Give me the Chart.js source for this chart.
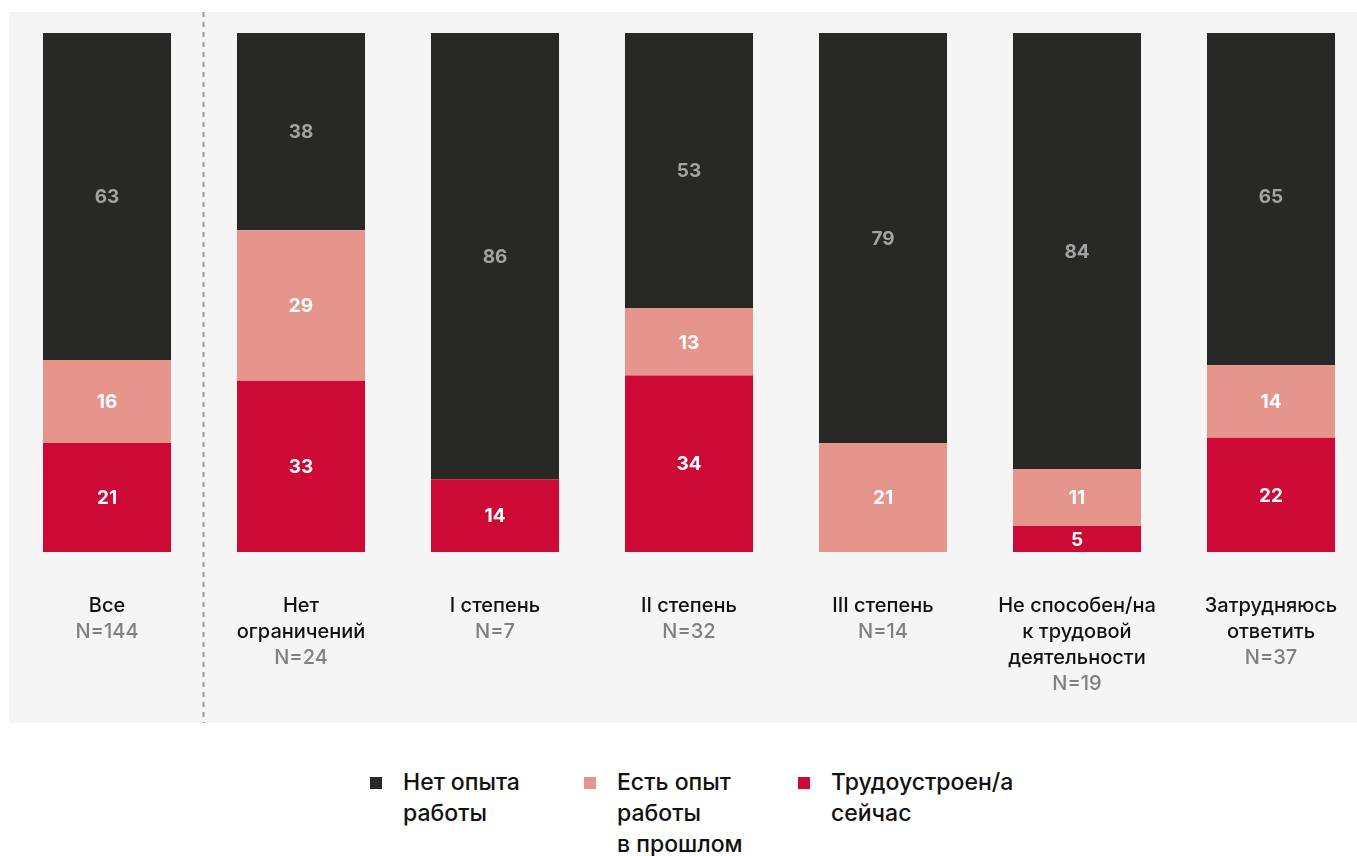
<!DOCTYPE html>
<html>
<head>
<meta charset="utf-8">
<script src="https://cdn.jsdelivr.net/npm/chart.js@4.4.1/dist/chart.umd.min.js"></script>
<style>
  html, body { margin: 0; padding: 0; background: #fff; overflow: hidden; }
  body { width: 1357px; height: 856px; position: relative; font-family: Inter, "Liberation Sans", sans-serif; }
  #chart { position: absolute; left: 0; top: 0; }
  .legend { position: absolute; top: 767px; left: 0; width: 1357px; }
  .item { position: absolute; top: 0; font-size: 23px; font-weight: 500; line-height: 31px; color: #111; white-space: nowrap; }
  .item i { position: absolute; left: -33px; top: 10px; width: 12px; height: 12px; }
</style>
</head>
<body>
<canvas id="chart" width="1368" height="760"></canvas>
<div class="legend" id="legend"></div>
<script>
// категории и подписи
const categoryLines = [
  ['Все'],
  ['Нет', 'ограничений'],
  ['I степень'],
  ['II степень'],
  ['III степень'],
  ['Не способен/на', 'к трудовой', 'деятельности'],
  ['Затрудняюсь', 'ответить']
];
const sampleSizes = ['N=144', 'N=24', 'N=7', 'N=32', 'N=14', 'N=19', 'N=37'];

// значения, %
const employedNow = [21, 33, 14, 34, 0, 5, 22];
const pastExperience = [16, 29, 0, 13, 21, 11, 14];
const noExperience = [63, 38, 86, 53, 79, 84, 65];

const seriesNames = [['Нет опыта', 'работы'], ['Есть опыт', 'работы', 'в прошлом'], ['Трудоустроен/а', 'сейчас']];
const seriesColors = ['#282826', '#e6958d', '#cc0a35'];

const FONT = 'Inter, "Liberation Sans", sans-serif';

// фон панели + пунктир после "Все"
const panelPlugin = {
  id: 'panel',
  beforeDraw(chart) {
    const ctx = chart.ctx;
    ctx.save();
    ctx.fillStyle = '#f5f5f5';
    ctx.fillRect(9, 12, chart.width - 9, 711);
    const x = chart.scales.x;
    const sepX = Math.round((x.getPixelForValue(0) + x.getPixelForValue(1)) / 2) - 0.5;
    ctx.strokeStyle = '#9b9b9b';
    ctx.lineWidth = 2;
    ctx.setLineDash([5, 5]);
    ctx.beginPath();
    ctx.moveTo(sepX, 12);
    ctx.lineTo(sepX, 723);
    ctx.stroke();
    ctx.restore();
  }
};

// подписи значений и категорий
const labelsPlugin = {
  id: 'labels',
  afterDatasetsDraw(chart) {
    const ctx = chart.ctx;
    ctx.save();
    ctx.textAlign = 'center';
    ctx.textBaseline = 'middle';
    ctx.font = 'bold 19px ' + FONT;
    chart.data.datasets.forEach((ds, di) => {
      chart.getDatasetMeta(di).data.forEach((bar, i) => {
        const v = ds.data[i];
        if (!v) return;
        ctx.fillStyle = ds.labelColor;
        ctx.fillText(String(v), bar.x, (bar.y + bar.base) / 2 + 1);
      });
    });

    const xs = chart.scales.x;
    categoryLines.forEach((lines, i) => {
      const cx = xs.getPixelForValue(i);
      let y = 606;
      ctx.font = '500 20px ' + FONT;
      ctx.fillStyle = '#111111';
      lines.forEach(t => { ctx.fillText(t, cx, y); y += 26; });
      ctx.fillStyle = '#808080';
      ctx.fillText(sampleSizes[i], cx, y);
    });
    ctx.restore();
  }
};

const ctx = document.getElementById('chart').getContext('2d');
const myChart = new Chart(ctx, {
  type: 'bar',
  data: {
    labels: categoryLines.map(l => l.join(' ')),
    datasets: [{
      label: seriesNames[2].join(' '),
      data: employedNow,
      backgroundColor: seriesColors[2],
      labelColor: '#ffffff'
    }, {
      label: seriesNames[1].join(' '),
      data: pastExperience,
      backgroundColor: seriesColors[1],
      labelColor: '#ffffff'
    }, {
      label: seriesNames[0].join(' '),
      data: noExperience,
      backgroundColor: seriesColors[0],
      labelColor: '#a3a3a3'
    }]
  },
  options: {
    responsive: false,
    animation: false,
    layout: { padding: { left: 10, right: 0, top: 33, bottom: 208 } },
    datasets: { bar: { barPercentage: 0.66, categoryPercentage: 1, borderWidth: 0 } },
    plugins: { legend: { display: false }, tooltip: { enabled: false } },
    scales: {
      x: { stacked: true, display: false },
      y: { stacked: true, display: false, min: 0, max: 100 }
    }
  },
  plugins: [panelPlugin, labelsPlugin]
});

// легенда
const legendLeft = [403, 617, 831];
const legend = document.getElementById('legend');
seriesNames.forEach((lines, i) => {
  const el = document.createElement('div');
  el.className = 'item';
  el.style.left = legendLeft[i] + 'px';
  el.innerHTML = '<i style="background:' + seriesColors[i] + '"></i>' + lines.join('<br>');
  legend.appendChild(el);
});
</script>
</body>
</html>
